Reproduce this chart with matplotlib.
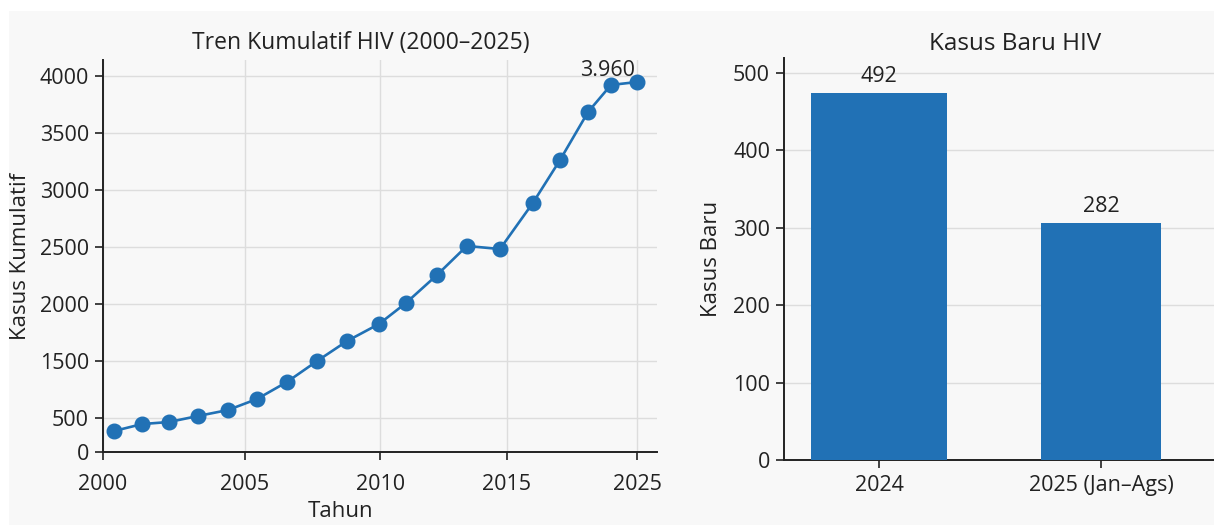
import matplotlib
matplotlib.use("Agg")
import matplotlib.pyplot as plt
from matplotlib.patches import Rectangle

# ---- data ----
year_pos = [2000.41, 2001.45, 2002.45, 2003.53, 2004.64, 2005.72, 2006.83, 2007.95,
            2009.06, 2010.25, 2011.25, 2012.40, 2013.51, 2014.74, 2015.96, 2016.97,
            2018.01, 2018.86, 2019.83]
cumulative = [886, 947, 965, 1018, 1070, 1167, 1316, 1500, 1675, 1825, 2009, 2254,
              2509, 2482, 2886, 3263, 3684, 3921, 3947]
last_label = "3.960"

x_tick_pos = [2000, 2005.27, 2010.29, 2015, 2019.83]
x_tick_labels = ["2000", "2005", "2010", "2015", "2025"]
y_tick_pos = [1000, 1500, 2000, 2500, 3000, 3500, 4000, 702]
y_tick_labels = ["500", "1500", "2000", "2500", "3000", "3500", "4000", "0"]

bar_categories = ["2024", "2025 (Jan\u2013Ags)"]
bar_heights = [474, 306]
bar_labels = ["492", "282"]
bar_widths = [0.61, 0.54]
bar_yticks = [0, 100, 200, 300, 400, 500]

# ---- style ----
BLUE = "#2171b5"
BG = "#f8f8f8"
SPINE = "#222222"
GRID = "#dddddd"
TXT = "#222222"
FS = 15.5
plt.rcParams['font.family'] = ['Open Sans', 'DejaVu Sans']

fig = plt.figure(figsize=(12.14, 5.25), dpi=100)
fig.patch.set_facecolor("white")
fig.patches.append(Rectangle((9 / 1214, 0), 1, 1 - 11 / 525, transform=fig.transFigure,
                             facecolor=BG, edgecolor="none", zorder=-10))

# ---- left: line chart ----
ax1 = fig.add_axes([103 / 1214, 1 - 452 / 525, (657 - 103) / 1214, (452 - 60) / 525])
ax1.set_facecolor(BG)
ax1.plot(year_pos, cumulative, color=BLUE, lw=1.9, marker="o", ms=10.5, zorder=3)
ax1.annotate(last_label, (year_pos[-1], cumulative[-1]), xytext=(-21, 4.5),
             textcoords="offset points", ha="center", va="baseline",
             fontsize=FS, color=TXT)
ax1.set_xlim(2000, 2020.57)
ax1.set_ylim(702, 4140)
ax1.set_xticks(x_tick_pos)
ax1.set_xticklabels(x_tick_labels)
ax1.set_yticks(y_tick_pos)
ax1.set_yticklabels(y_tick_labels)
ax1.grid(True, color=GRID, lw=1.0)
ax1.set_axisbelow(True)
ax1.set_title("Tren Kumulatif HIV (2000\u20132025)", fontsize=16.5, color=TXT, pad=8, x=0.466)
ax1.set_xlabel("Tahun", fontsize=16, color=TXT)
ax1.xaxis.set_label_coords(0.428, -0.125)
ax1.set_ylabel("Kasus Kumulatif", fontsize=16, color=TXT, labelpad=6)

# ---- right: bar chart ----
ax2 = fig.add_axes([784 / 1214, 1 - 460 / 525, (1214 - 784) / 1214, (460 - 58) / 525])
ax2.set_facecolor(BG)
xs = list(range(len(bar_categories)))
bars = ax2.bar(xs, bar_heights, width=bar_widths, color=BLUE, zorder=3)
for b, lab in zip(bars, bar_labels):
    ax2.annotate(lab, (b.get_x() + b.get_width() / 2, b.get_height()), xytext=(0, 4),
                 textcoords="offset points", ha="center", va="bottom",
                 fontsize=FS, color=TXT)
ax2.set_xlim(-0.428, 1.509)
ax2.set_ylim(0, 519)
ax2.set_xticks(xs)
ax2.set_xticklabels(bar_categories)
ax2.set_yticks(bar_yticks)
ax2.grid(True, axis="y", color=GRID, lw=1.0)
ax2.set_axisbelow(True)
ax2.set_title("Kasus Baru HIV", fontsize=17.5, color=TXT, pad=6, x=0.537)
ax2.set_ylabel("Kasus Baru", fontsize=16, color=TXT, labelpad=8)

for ax in (ax1, ax2):
    for s in ("top", "right"):
        ax.spines[s].set_visible(False)
    for s in ("left", "bottom"):
        ax.spines[s].set_color(SPINE)
        ax.spines[s].set_linewidth(1.4)
    ax.tick_params(axis="both", labelsize=FS, colors=TXT, length=6, width=1.2)
    ax.tick_params(axis="y", pad=4)
ax1.tick_params(axis="x", pad=10)
ax2.tick_params(axis="x", pad=5)

fig.savefig("out.png", dpi=100, facecolor=fig.get_facecolor())
